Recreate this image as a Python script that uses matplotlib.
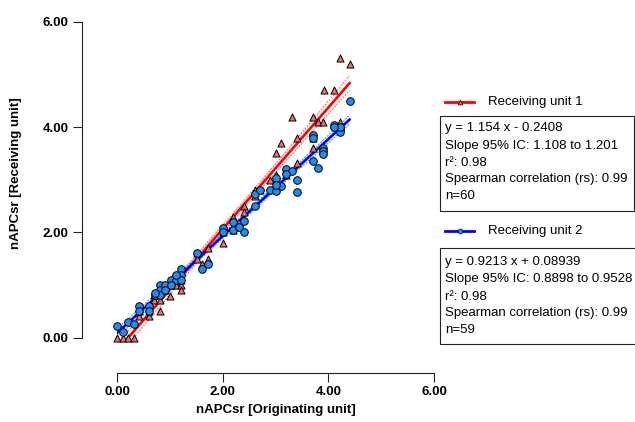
import numpy as np
import matplotlib
matplotlib.use("Agg")
import matplotlib.pyplot as plt
from matplotlib.lines import Line2D
from matplotlib.patches import Rectangle

plt.rcParams['font.family'] = ['Liberation Sans', 'DejaVu Sans']

# ---- data: Receiving unit 1 (triangles) ----
unit1_x = [0.0, 0.1, 0.21, 0.32, 0.41, 0.41, 0.61, 0.61, 0.7, 0.81,
           0.81, 0.91, 1.0, 1.01, 1.11, 1.21, 1.21, 1.51, 1.61, 1.71,
           1.71, 2.0, 2.0, 2.2, 2.3, 2.4, 2.4, 2.6, 2.71, 2.9,
           3.0, 3.0, 3.0, 3.0, 3.1, 3.2, 3.31, 3.4, 3.4, 3.7,
           3.7, 3.8, 3.9, 3.91, 4.1, 4.21, 4.21, 4.4, 0.91, 1.11,
           2.0, 2.6, 3.7, 3.9, 4.21, 3.2, 1.51, 0.7, 1.21, 2.2]
unit1_y = [0.0, 0.0, 0.0, 0.0, 0.5, 0.4, 0.5, 0.4, 0.71, 0.71,
           0.5, 0.9, 0.79, 1.0, 1.0, 1.0, 0.9, 1.49, 1.4, 1.49,
           1.7, 1.8, 2.09, 2.3, 2.1, 2.5, 2.39, 2.8, 2.8, 3.0,
           3.09, 2.9, 2.99, 3.5, 3.7, 3.09, 4.2, 3.8, 3.31, 4.2,
           3.6, 4.1, 4.1, 4.7, 4.7, 4.1, 5.31, 5.2, 1.0, 1.09,
           2.0, 2.7, 3.8, 3.6, 4.0, 3.2, 1.6, 0.8, 1.09, 2.04]

# ---- data: Receiving unit 2 (circles) ----
unit2_x = [0.0, 0.1, 0.21, 0.31, 0.41, 0.61, 0.72, 0.81, 0.81, 0.91,
           1.01, 1.11, 1.21, 1.21, 1.21, 1.51, 1.61, 1.71, 2.0, 2.0,
           2.2, 2.31, 2.4, 2.4, 2.6, 2.6, 2.9, 3.0, 3.0, 3.1,
           3.2, 3.31, 3.4, 3.4, 3.7, 3.8, 3.7, 3.7, 3.9, 3.9,
           3.9, 4.1, 4.21, 4.21, 4.21, 4.4, 0.41, 0.61, 0.81, 0.91,
           1.01, 1.11, 2.3, 2.71, 3.0, 3.2, 4.1, 2.2, 0.72]
unit2_y = [0.22, 0.1, 0.3, 0.26, 0.6, 0.6, 0.81, 1.0, 0.9, 1.0,
           1.09, 1.09, 1.3, 1.19, 1.09, 1.6, 1.3, 1.4, 2.09, 2.0,
           2.04, 2.15, 2.21, 2.01, 2.5, 2.73, 2.8, 3.03, 2.79, 2.89,
           3.2, 3.17, 3.0, 2.77, 3.36, 3.23, 3.85, 3.8, 3.61, 3.55,
           3.49, 4.04, 3.97, 3.9, 4.0, 4.5, 0.5, 0.5, 0.8, 0.9,
           1.0, 1.19, 2.1, 2.8, 2.9, 3.1, 4.0, 2.2, 0.85]

# ---- fit results as reported ----
fit1_slope, fit1_intercept = 1.154, -0.2408
fit2_slope, fit2_intercept = 0.9213, 0.08939

series_names = ["Receiving unit 1", "Receiving unit 2"]
stats_texts = [
    ["y = 1.154 x - 0.2408", "Slope 95% IC: 1.108 to 1.201", "r\u00b2: 0.98",
     "Spearman correlation (rs): 0.99", "n=60"],
    ["y = 0.9213 x + 0.08939", "Slope 95% IC: 0.8898 to 0.9528", "r\u00b2: 0.98",
     "Spearman correlation (rs): 0.99", "n=59"],
]

ticks = [0, 2, 4, 6]
tick_labels = ["0.00", "2.00", "4.00", "6.00"]

W, H = 635, 422
FS = 9.5
fig = plt.figure(figsize=(W / 100, H / 100), dpi=100)
ax = fig.add_axes([117.3 / W, 1 - 337.5 / H, 316.7 / W, 315.5 / H])

red, red_ci, red_fill = '#ff0000', '#ff7070', '#ee7068'
blue, blue_ci, blue_fill = '#0000ff', '#3c9cff', '#1f8fef'


def ci_band(x, y, slope, intercept, xs):
    x = np.asarray(x); y = np.asarray(y)
    n = len(x)
    resid = y - (slope * x + intercept)
    s = np.sqrt(np.sum(resid ** 2) / (n - 2))
    sxx = np.sum((x - x.mean()) ** 2)
    t = 2.0
    half = t * s * np.sqrt(1 / n + (xs - x.mean()) ** 2 / sxx)
    yc = slope * xs + intercept
    return yc - half, yc + half


for xd, yd, sl, ic, lc, cc in [(unit1_x, unit1_y, fit1_slope, fit1_intercept, red, red_ci),
                               (unit2_x, unit2_y, fit2_slope, fit2_intercept, blue, blue_ci)]:
    xs = np.linspace(min(xd), max(xd), 200)
    lo, hi = ci_band(xd, yd, sl, ic, xs)
    ax.plot(xs, lo, color=cc, lw=0.9, ls=(0, (1.5, 1)), zorder=2)
    ax.plot(xs, hi, color=cc, lw=0.9, ls=(0, (1.5, 1)), zorder=2)
    ax.plot(xs, sl * xs + ic, color=lc, lw=1.9, zorder=3)

ax.scatter(unit1_x, unit1_y, marker='^', s=26, facecolor=red_fill, edgecolor='black',
           linewidth=0.7, zorder=4, clip_on=False)
ax.scatter(unit2_x, unit2_y, marker='o', s=30, facecolor=blue_fill, edgecolor='black',
           linewidth=0.7, zorder=5, clip_on=False)

ax.set_xlim(0, 6)
ax.set_ylim(0, 6)
ax.set_xticks(ticks)
ax.set_yticks(ticks)
ax.set_xticklabels(tick_labels)
ax.set_yticklabels(tick_labels)
for sp in ['top', 'right']:
    ax.spines[sp].set_visible(False)
ax.spines['left'].set_position(('outward', 25.4))
ax.spines['bottom'].set_position(('outward', 25.6))
for sp in ['left', 'bottom']:
    ax.spines[sp].set_linewidth(0.8)
    ax.spines[sp].set_color('#222222')
ax.tick_params(axis='both', length=6.5, width=0.8, color='#222222', labelsize=FS)
ax.tick_params(axis='x', pad=3)
ax.tick_params(axis='y', pad=3)
for lab in ax.get_xticklabels() + ax.get_yticklabels():
    lab.set_fontweight('bold')

ax.set_xlabel("nAPCsr [Originating unit]", fontweight='bold', fontsize=FS)
ax.set_ylabel("nAPCsr [Receiving unit]", fontweight='bold', fontsize=FS)
ax.xaxis.set_label_coords(0.5, (337.5 - 404) / 315.5)
ax.yaxis.set_label_coords((22 - 117.3) / 316.7, 0.52)


def fx(px):
    return px / W


def fy(py):
    return 1 - py / H


legend_specs = [
    (101.7, 116, 211, 634, red, '^', red_fill, [127.7, 145.5, 162.5, 179.5, 196.5]),
    (230.7, 247.5, 343.5, 640, blue, 'o', blue_fill, [261.7, 279, 296.5, 313.3, 330]),
]
for i, (ly, btop, bbot, bright, lc, mk, mf, rows) in enumerate(legend_specs):
    fig.add_artist(Line2D([fx(445), fx(474)], [fy(ly), fy(ly)], color=lc, lw=2.0,
                          transform=fig.transFigure))
    fig.add_artist(Line2D([fx(459.5)], [fy(ly)], marker=mk, markersize=3.5,
                          markerfacecolor=mf, markeredgecolor='black', markeredgewidth=0.5,
                          color=lc, transform=fig.transFigure))
    fig.text(fx(488), fy(ly), series_names[i], fontsize=FS, va='center', ha='left')
    fig.add_artist(Rectangle((fx(440), fy(bbot)), fx(bright) - fx(440), fy(btop) - fy(bbot),
                             transform=fig.transFigure, facecolor='white',
                             edgecolor='#222222', lw=0.8))
    for r, txt in zip(rows, stats_texts[i]):
        fig.text(fx(445), fy(r), txt, fontsize=FS, va='center', ha='left')

fig.savefig("out.png", dpi=100)
